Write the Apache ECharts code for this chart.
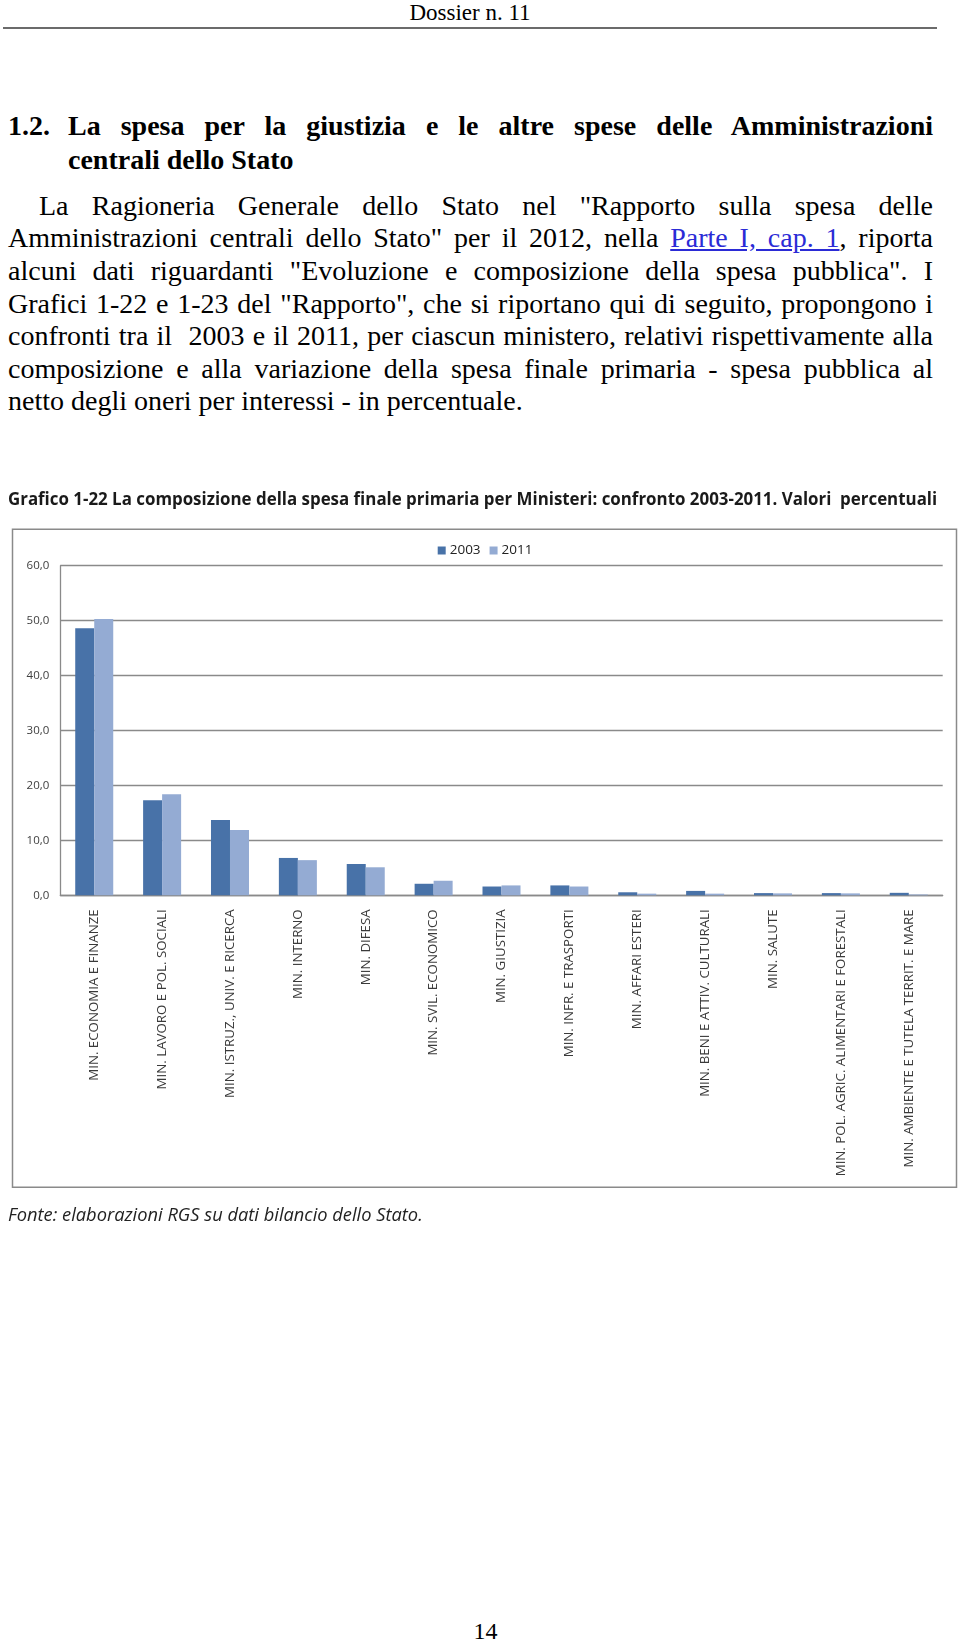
<!DOCTYPE html>
<html>
<head>
<meta charset="utf-8">
<script src="https://cdn.jsdelivr.net/npm/echarts@6/dist/echarts.min.js"></script>
<style>
  body { margin: 0; background: #fff; }
  .page { position: relative; width: 960px; height: 1643px; overflow: hidden; font-family: "Liberation Serif", serif; color: #000; }
  .ln { position: absolute; white-space: nowrap; line-height: 1; }
  .just { text-align: justify; text-align-last: justify; }
  .body { font-size: 28px; }
  .head { font-size: 28px; font-weight: bold; }
  a { color: #2b2bd6; text-decoration: underline; }
  #chart { position: absolute; left: 0; top: 480px; width: 960px; height: 770px; }
</style>
</head>
<body>
<div class="page">
  <div class="ln" style="left:0;width:940px;top:1px;font-size:23px;text-align:center;">Dossier n. 11</div>
  <div style="position:absolute;left:3px;top:27px;width:934px;height:2px;background:#6b6b6b;"></div>

  <div class="ln head" style="left:8px;top:111.5px;">1.2.</div>
  <div class="ln head just" style="left:68px;width:865px;top:111.5px;">La spesa per la giustizia e le altre spese delle Amministrazioni</div>
  <div class="ln head" style="left:68px;top:145.8px;">centrali dello Stato</div>

  <div class="ln body just" style="left:39px;width:894px;top:191.5px;">La Ragioneria Generale dello Stato nel "Rapporto sulla spesa delle</div>
  <div class="ln body just" style="left:8px;width:925px;top:224px;">Amministrazioni centrali dello Stato" per il 2012, nella <a>Parte I, cap. 1</a>, riporta</div>
  <div class="ln body just" style="left:8px;width:925px;top:256.5px;">alcuni dati riguardanti "Evoluzione e composizione della spesa pubblica". I</div>
  <div class="ln body just" style="left:8px;width:925px;top:289.5px;">Grafici 1-22 e 1-23 del "Rapporto", che si riportano qui di seguito, propongono i</div>
  <div class="ln body just" style="left:8px;width:925px;top:322px;">confronti tra il&nbsp; 2003 e il 2011, per ciascun ministero, relativi rispettivamente alla</div>
  <div class="ln body just" style="left:8px;width:925px;top:354.5px;">composizione e alla variazione della spesa finale primaria - spesa pubblica al</div>
  <div class="ln body" style="left:8px;top:387px;">netto degli oneri per interessi - in percentuale.</div>

  <div id="chart"></div>

  <div class="ln" style="left:0;width:971px;top:1619px;font-size:24px;text-align:center;">14</div>
</div>

<script>
// Grafico 1-22: composizione della spesa finale primaria per Ministeri (%)
var categories = [
  'MIN. ECONOMIA E FINANZE',
  'MIN. LAVORO E POL. SOCIALI',
  'MIN. ISTRUZ., UNIV. E RICERCA',
  'MIN. INTERNO',
  'MIN. DIFESA',
  'MIN. SVIL. ECONOMICO',
  'MIN. GIUSTIZIA',
  'MIN. INFR. E TRASPORTI',
  'MIN. AFFARI ESTERI',
  'MIN. BENI E ATTIV. CULTURALI',
  'MIN. SALUTE',
  'MIN. POL. AGRIC. ALIMENTARI E FORESTALI',
  'MIN. AMBIENTE E TUTELA TERRIT. E MARE'
];
var values2003 = [48.6, 17.3, 13.7, 6.8, 5.7, 2.1, 1.6, 1.8, 0.55, 0.8, 0.4, 0.4, 0.45];
var values2011 = [50.3, 18.4, 11.9, 6.4, 5.1, 2.65, 1.8, 1.6, 0.3, 0.3, 0.35, 0.35, 0.15];
var seriesNames = ['2003', '2011'];

var sansFont = '"Open Sans", Lato, sans-serif';
var gridGrey = '#8a8a8a';

var chart = echarts.init(document.getElementById('chart'), null, { renderer: 'canvas' });

chart.setOption({
  animation: false,
  title: [{
    text: 'Grafico 1-22 La composizione della spesa finale primaria per Ministeri: confronto 2003-2011. Valori  percentuali',
    left: 8,
    top: 11.4,
    padding: 0,
    textStyle: { fontFamily: sansFont, fontWeight: 'bold', fontSize: 16.9, color: '#1a1a1a' }
  }, {
    text: 'Fonte: elaborazioni RGS su dati bilancio dello Stato.',
    left: 8,
    top: 727,
    padding: 0,
    textStyle: { fontFamily: sansFont, fontStyle: 'italic', fontWeight: 'normal', fontSize: 18.3, color: '#222' }
  }],
  graphic: [{
    type: 'rect',
    shape: { x: 12.5, y: 49.3, width: 944, height: 658 },
    style: { fill: 'none', stroke: gridGrey, lineWidth: 1.5 },
    silent: true
  }],
  legend: {
    data: seriesNames,
    left: 437.7,
    top: 63.5,
    padding: 0,
    itemWidth: 8,
    itemHeight: 8,
    itemGap: 9,
    icon: 'rect',
    textStyle: { fontFamily: sansFont, fontSize: 13.5, color: '#222', padding: [0, 0, 0, -1] }
  },
  grid: {
    left: 60.3,
    right: 17.3,
    top: 85.7,
    bottom: 354.7
  },
  xAxis: {
    type: 'category',
    data: categories,
    axisLine: { lineStyle: { color: gridGrey, width: 1.3 } },
    axisTick: { show: false },
    axisLabel: {
      interval: 0,
      rotate: 90,
      margin: 14,
      fontFamily: sansFont,
      fontSize: 13.3,
      color: '#3a3a3a'
    }
  },
  yAxis: {
    type: 'value',
    min: 0,
    max: 60,
    interval: 10,
    axisLine: { show: true, lineStyle: { color: gridGrey, width: 1.3 } },
    axisTick: { show: false },
    splitLine: { lineStyle: { color: gridGrey, width: 1.3 } },
    axisLabel: {
      margin: 11,
      fontFamily: sansFont,
      fontSize: 11.5,
      color: '#404040',
      formatter: function (v) { return v.toFixed(1).replace('.', ','); }
    }
  },
  series: [{
    name: seriesNames[0],
    type: 'bar',
    data: values2003,
    barWidth: '28%',
    barGap: '0%',
    itemStyle: { color: '#4872A8' }
  }, {
    name: seriesNames[1],
    type: 'bar',
    data: values2011,
    barWidth: '28%',
    barGap: '0%',
    itemStyle: { color: '#94ABD3' }
  }]
});
</script>
</body>
</html>
